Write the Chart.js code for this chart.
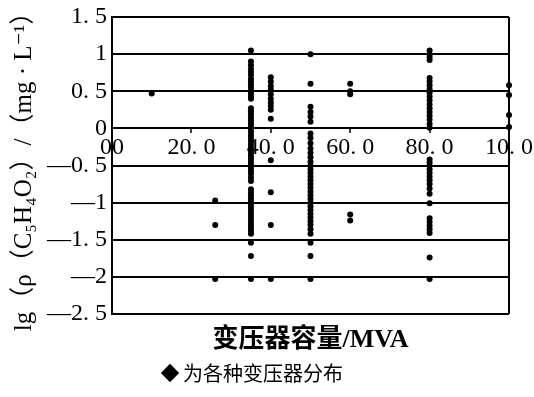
<!DOCTYPE html>
<html>
<head>
<meta charset="utf-8">
<script src="https://cdn.jsdelivr.net/npm/chart.js@4/dist/chart.umd.min.js"></script>
<style>
  html, body { margin: 0; padding: 0; background: #ffffff; }
  canvas { display: block; }
</style>
</head>
<body>
<canvas id="chart" width="534" height="397"></canvas>
<script>
// Transformer capacity (MVA) of each measured group
const capacities = [10, 26, 35, 40, 50, 60, 80, 100];

// lg of furfural concentration (mg/L) measured in each group
const furfural10 = [0.47];
const furfural26 = [-0.97, -1.3, -2.03];
const furfural35 = [1.05, 0.9, 0.85, 0.8, 0.76, 0.72, 0.67, 0.63, 0.59, 0.55, 0.51, 0.47, 0.43, 0.40,
  0.27, 0.23, 0.19, 0.15, 0.11, 0.07, 0.03, -0.01, -0.05, -0.09, -0.13, -0.17, -0.21, -0.25, -0.29,
  -0.33, -0.37, -0.41, -0.45, -0.49, -0.53, -0.57, -0.61, -0.66, -0.71,
  -0.82, -0.86, -0.9, -0.94, -0.98, -1.02, -1.06, -1.1, -1.14, -1.18, -1.22, -1.26, -1.3, -1.34,
  -1.38, -1.42, -1.54, -1.72, -2.03];
const furfural40 = [0.69, 0.63, 0.57, 0.52, 0.46, 0.4, 0.35, 0.3, 0.25, 0.13, -0.43, -0.86, -1.3, -2.03];
const furfural50 = [1.0, 0.6, 0.29, 0.22, 0.16, 0.09, -0.07, -0.13, -0.2, -0.27, -0.33, -0.39, -0.45,
  -0.5, -0.55, -0.6, -0.65, -0.7, -0.75, -0.8, -0.85, -0.9, -0.95, -1.0, -1.05, -1.1, -1.15, -1.2,
  -1.25, -1.3, -1.36, -1.42, -1.54, -1.72, -2.03];
const furfural60 = [0.6, 0.5, 0.46, -1.16, -1.24];
const furfural80 = [1.05, 1.0, 0.96, 0.92, 0.68, 0.63, 0.58, 0.53, 0.48, 0.43, 0.38, 0.32, 0.27, 0.22,
  0.17, 0.12, 0.06, 0.01, -0.42, -0.46, -0.5, -0.55, -0.6, -0.65, -0.7, -0.75, -0.81, -0.88, -1.01,
  -1.21, -1.26, -1.31, -1.36, -1.41, -1.74, -2.03];
const furfural100 = [0.58, 0.45, 0.18, 0.02];

const groups = [furfural10, furfural26, furfural35, furfural40, furfural50, furfural60, furfural80, furfural100];

// Axis tick labels as printed
const xTickValues = [0, 20, 40, 60, 80, 100];
const xTickLabels = ['00', '20. 0', '40. 0', '60. 0', '80. 0', '10. 0'];
const yTickValues = [-2.5, -2, -1.5, -1, -0.5, 0, 0.5, 1, 1.5];
const yTickLabels = ['—2. 5', '—2', '—1. 5', '—1', '—0. 5', '0', '0. 5', '1', '1. 5'];

const points = [];
capacities.forEach((cap, i) => {
  groups[i].forEach(v => points.push({ x: cap, y: v }));
});

const serif = "'Liberation Serif', 'DejaVu Serif', 'Noto Sans CJK SC', serif";

new Chart(document.getElementById('chart'), {
  type: 'scatter',
  data: {
    datasets: [{
      label: '为各种变压器分布',
      data: points,
      backgroundColor: '#000000',
      borderColor: '#000000',
      pointRadius: 3,
      pointHoverRadius: 3,
      pointBorderWidth: 0,
      clip: false
    }]
  },
  options: {
    responsive: false,
    devicePixelRatio: 1,
    animation: false,
    layout: { padding: { top: 12, right: 24, bottom: 4, left: 0 } },
    scales: {
      x: {
        type: 'linear',
        position: { y: 0 },
        min: 0,
        max: 100,
        afterBuildTicks: scale => { scale.ticks = xTickValues.map(v => ({ value: v })); },
        ticks: {
          color: '#000000',
          font: { family: serif, size: 24 },
          padding: 1,
          maxRotation: 0,
          autoSkip: false,
          callback: (value, index) => xTickLabels[index]
        },
        grid: {
          color: ctx => (ctx.tick && (ctx.tick.value === 0 || ctx.tick.value === 100)) ? '#000000' : 'rgba(0,0,0,0)',
          lineWidth: 2,
          drawTicks: true,
          tickLength: 4,
          tickColor: '#000000',
          tickWidth: 1.5
        },
        border: { display: true, color: '#000000', width: 2 }
      },
      y: {
        type: 'linear',
        min: -2.5,
        max: 1.5,
        afterBuildTicks: scale => { scale.ticks = yTickValues.map(v => ({ value: v })); },
        afterFit: scale => { scale.width = 112; },
        ticks: {
          color: '#000000',
          font: { family: serif, size: 24, lineHeight: 1 },
          padding: 5,
          autoSkip: false,
          callback: (value, index) => yTickLabels[index]
        },
        grid: {
          color: '#000000',
          lineWidth: 2,
          drawTicks: false
        },
        border: { display: true, color: '#000000', width: 2 },
        title: {
          display: true,
          text: 'lg（ρ（C₅H₄O₂）/（mg · L⁻¹）',
          color: '#000000',
          font: { family: serif, size: 25 },
          padding: { top: 9, bottom: 0 }
        }
      }
    },
    plugins: {
      title: {
        display: true,
        position: 'bottom',
        weight: 900,
        fullSize: false,
        text: '变压器容量/MVA',
        color: '#000000',
        font: { family: "'Liberation Serif', 'Noto Sans CJK SC', serif", size: 26, weight: 'bold', lineHeight: 1.0 },
        padding: { top: 13, bottom: 0 }
      },
      legend: {
        display: true,
        position: 'bottom',
        labels: {
          usePointStyle: true,
          pointStyle: 'rectRot',
          boxWidth: 6,
          boxHeight: 13,
          padding: 10,
          color: '#000000',
          font: { family: "'Noto Sans CJK SC', sans-serif", size: 20 }
        }
      },
      tooltip: { enabled: false }
    }
  }
});
</script>
</body>
</html>
